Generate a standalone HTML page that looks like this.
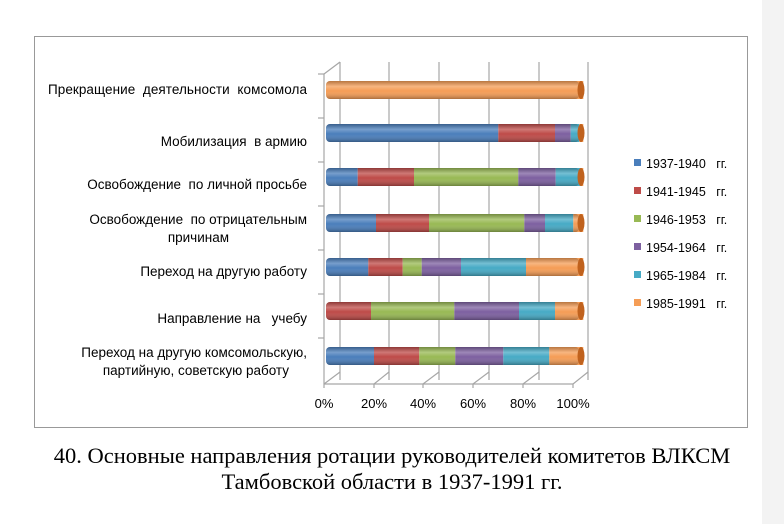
<!DOCTYPE html>
<html><head><meta charset="utf-8"><style>
body{margin:0;width:784px;height:524px;background:#fff;overflow:hidden;font-family:"Liberation Sans","DejaVu Sans",sans-serif}
</style></head><body>
<svg width="784" height="524" xmlns="http://www.w3.org/2000/svg" style="position:absolute;left:0;top:0">
<defs>
<linearGradient id="g" x1="0" y1="0" x2="0" y2="1">
<stop offset="0" stop-color="#000" stop-opacity="0.25"/>
<stop offset="0.3" stop-color="#fff" stop-opacity="0.25"/>
<stop offset="0.55" stop-color="#fff" stop-opacity="0"/>
<stop offset="1" stop-color="#000" stop-opacity="0.3"/>
</linearGradient>
</defs>
<rect x="762" y="0" width="22" height="524" fill="#f3f3f3"/>
<rect x="34.5" y="36.5" width="713" height="391" fill="#fff" stroke="#999" stroke-width="1"/>
<g stroke="#a6a6a6" stroke-width="1.2">
<line x1="340" y1="62" x2="340" y2="380"/><line x1="389" y1="62" x2="389" y2="380"/>
<line x1="439" y1="62" x2="439" y2="380"/><line x1="489" y1="62" x2="489" y2="380"/>
<line x1="539" y1="62" x2="539" y2="380"/><line x1="588" y1="62" x2="588" y2="380"/>
<line x1="324" y1="74" x2="324" y2="384"/><line x1="324" y1="74" x2="340" y2="62"/>
<line x1="324" y1="384" x2="573" y2="384"/>
<line x1="324" y1="384" x2="340" y2="372"/><line x1="374" y1="384" x2="389" y2="372"/>
<line x1="423" y1="384" x2="439" y2="372"/><line x1="473" y1="384" x2="489" y2="372"/>
<line x1="523" y1="384" x2="539" y2="372"/><line x1="573" y1="384" x2="588" y2="372"/>
<line x1="324" y1="384" x2="324" y2="388"/><line x1="374" y1="384" x2="374" y2="388"/><line x1="423" y1="384" x2="423" y2="388"/><line x1="473" y1="384" x2="473" y2="388"/><line x1="523" y1="384" x2="523" y2="388"/><line x1="573" y1="384" x2="573" y2="388"/>
<line x1="318" y1="74" x2="324" y2="74"/><line x1="318" y1="118" x2="324" y2="118"/><line x1="318" y1="162" x2="324" y2="162"/><line x1="318" y1="206" x2="324" y2="206"/><line x1="318" y1="250" x2="324" y2="250"/><line x1="318" y1="294" x2="324" y2="294"/><line x1="318" y1="338" x2="324" y2="338"/>
</g>
<g id="bars"></g>
<g font-size="13.5" fill="#000" text-anchor="end">
<text x="307" y="94" textLength="259">Прекращение&#160; деятельности&#160; комсомола</text>
<text x="307" y="146">Мобилизация&#160; в армию</text>
<text x="307" y="189">Освобождение&#160; по личной просьбе</text>
<text x="307" y="224">Освобождение&#160; по отрицательным</text>
<text x="229" y="242">причинам</text>
<text x="307" y="276">Переход на другую работу</text>
<text x="307" y="323">Направление на&#160;&#160; учебу</text>
<text x="307" y="357">Переход на другую комсомольскую,</text>
<text x="289" y="375">партийную, советскую работу</text>
</g>
<g font-size="13" fill="#000" text-anchor="middle">
<text x="324" y="408">0%</text><text x="374" y="408">20%</text><text x="423" y="408">40%</text><text x="473" y="408">60%</text><text x="523" y="408">80%</text><text x="573" y="408">100%</text>
</g>
<g font-size="12.5" fill="#000">
<rect x="634" y="159" width="7" height="7" fill="#4a7ebb"/><text x="646" y="168">1937-1940&#160;&#160; гг.</text>
<rect x="634" y="187" width="7" height="7" fill="#be4b48"/><text x="646" y="196">1941-1945&#160;&#160; гг.</text>
<rect x="634" y="215" width="7" height="7" fill="#98b954"/><text x="646" y="224">1946-1953&#160;&#160; гг.</text>
<rect x="634" y="243" width="7" height="7" fill="#7d60a0"/><text x="646" y="252">1954-1964&#160;&#160; гг.</text>
<rect x="634" y="271" width="7" height="7" fill="#46aac5"/><text x="646" y="280">1965-1984&#160;&#160; гг.</text>
<rect x="634" y="299" width="7" height="7" fill="#f59d56"/><text x="646" y="308">1985-1991&#160;&#160; гг.</text>
</g>
<g font-family="Liberation Serif,serif" font-size="22.5" text-anchor="middle" fill="#000">
<text x="392" y="463">40. Основные направления ротации руководителей комитетов ВЛКСМ</text>
<text x="392" y="489">Тамбовской области в 1937-1991 гг.</text>
</g>
</svg>
<script>
var C=["#4a7ebb","#be4b48","#98b954","#7d60a0","#46aac5","#f59d56"];
var D=["#2e5a8e","#8c2f2c","#6e8b36","#5a4078","#2c7f96","#c0621e"];
var B=[[90,[0,0,0,0,0,583.3]],
[133,[498.3,555,555,570.7,579.3,583.3]],
[177,[357.7,414,518.3,555.7,581,583.3]],
[223,[376,429,524.3,545,573.3,583.3]],
[267,[368.3,402.7,421.7,461,526,583.3]],
[311,[330,371,454.3,519,555,583.3]],
[356,[374,419.3,455.3,503.3,549.3,583.3]]];
var s="",h=18;
B.forEach(function(b){var y=b[0]-h/2,x0=330,first=-1;
 b[1].forEach(function(x1,i){if(x1>330&&first<0)first=i;});
 s+='<rect x="326" y="'+y+'" width="8" height="'+h+'" rx="4" fill="'+C[first]+'"/>';
 b[1].forEach(function(x1,i){if(x1>x0){s+='<rect x="'+x0+'" y="'+y+'" width="'+(x1-x0)+'" height="'+h+'" fill="'+C[i]+'"/>';x0=x1;}});
 s+='<rect x="326" y="'+y+'" width="'+(583.3-330)+'" height="'+h+'" rx="4" fill="url(#g)"/>';
 s+='<ellipse cx="581" cy="'+b[0]+'" rx="3.5" ry="'+h/2+'" fill="'+D[5]+'"/>';
});
document.getElementById("bars").innerHTML=s;
</script>
</body></html>
